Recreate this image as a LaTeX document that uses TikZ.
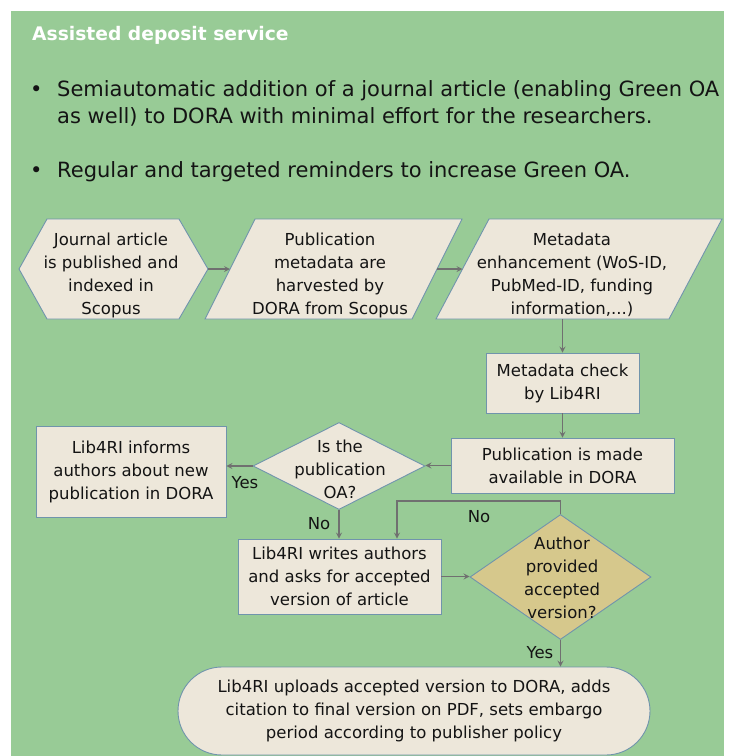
\documentclass[tikz,border=0pt]{standalone}
\usepackage{fontspec}
\setmainfont{DejaVu Sans}
\usetikzlibrary{shapes.geometric,calc}

\definecolor{panel}{RGB}{152,203,150}
\definecolor{paper}{RGB}{237,231,218}
\definecolor{edge}{RGB}{112,148,172}
\definecolor{tanc}{RGB}{214,200,140}
\definecolor{arrc}{RGB}{112,112,112}
\definecolor{ink}{RGB}{20,20,20}

\newcommand\flowfont{\fontsize{16.5}{23}\selectfont}
\newcommand\bulfont{\fontsize{21}{28}\selectfont}
\newcommand\headfont{\fontsize{18.7}{22}\selectfont\bfseries}

\begin{document}
\begin{tikzpicture}[x=1pt,y=-1pt,
   box/.style={draw=edge,fill=paper,line width=0.9pt,align=center,font=\flowfont,text=ink,inner sep=0pt},
   txt/.style={align=center,font=\flowfont,text=ink,inner sep=0pt},
   arr/.style={draw=arrc,line width=1.6pt,->,>=stealth},
   line/.style={anchor=base west,font=\bulfont,text=ink,inner sep=0pt}]
   \useasboundingbox(0,0)rectangle(729,756);%whole page
   \fill[white](0,0)rectangle(729,756);%white margin
   \fill[panel](11,11)rectangle(724,756);%green panel

   \node[anchor=base west,font=\headfont,text=white,inner sep=0pt](T)at(32,40){Assisted deposit service};%title
   \node[line](D1)at(30,96){•};%bullet 1
   \node[line](S1)at(57,96){Semiautomatic addition of a journal article (enabling Green OA};
   \node[line](S2)at(57,123.5){as well) to DORA with minimal effort for the researchers.};
   \node[line](D2)at(30,177){•};%bullet 2
   \node[line](S3)at(57,177){Regular and targeted reminders to increase Green OA.};

   %hexagon
   \draw[box](19,269)--(47,219)--(179,219)--(208,269)--(179,319)--(47,319)--cycle;
   \coordinate(JAr)at(208,269);%right tip
   \node[txt](JA)at(111,275){Journal article\\is published and\\indexed in\\Scopus};

   %parallelograms
   \draw[box](205,319)--(255,219)--(462,219)--(412,319)--cycle;
   \coordinate(PMl)at(230,269);\coordinate(PMr)at(437,269);
   \node[txt](PM)at(330,275){Publication\\metadata are\\harvested by\\DORA from Scopus};
   \draw[box](436,319)--(489,219)--(722,219)--(669,319)--cycle;
   \coordinate(MEl)at(462.5,269);\coordinate(MEb)at(562.5,319);
   \node[txt](ME)at(572,275){Metadata\\enhancement (WoS-ID,\\PubMed-ID, funding\\information,...)};

   \node[box,minimum width=153,minimum height=60](MC)at(562.5,383){Metadata check\\by Lib4RI};
   \node[box,minimum width=223,minimum height=55](PA)at(562.5,465.5){Publication is made\\available in DORA};
   \node[box,diamond,minimum width=172,minimum height=87](OA)at(339,466){};
   \node[txt](OAt)at(340,469){Is the\\publication\\OA?};
   \node[box,minimum width=190,minimum height=91](LI)at(131,471.5){Lib4RI informs\\authors about new\\publication in DORA};
   \node[box,minimum width=203,minimum height=75](LW)at(339.5,576.5){Lib4RI writes authors\\and asks for accepted\\version of article};
   \node[box,fill=tanc,diamond,minimum width=181,minimum height=125](AP)at(560.5,577){};
   \node[txt](APt)at(562,578){Author\\provided\\accepted\\version?};
   \node[box,rounded corners=44pt,minimum width=472,minimum height=88](UP)at(414,711)
      {Lib4RI uploads accepted version to DORA, adds\\citation to final version on PDF, sets embargo\\period according to publisher policy};

   %arrows
   \draw[arr](JAr)--(PMl);
   \draw[arr](PMr)--(MEl);
   \draw[arr](MEb)--(MC.north);
   \draw[arr](MC.south)--(PA.north);
   \draw[arr](PA.west)--(PA.west-|OA.east);
   \draw[arr](OA.west)--(OA.west-|LI.east);
   \draw[arr](OA.south)--(OA.south|-LW.north);
   \draw[arr](LW.east)--(LW.east-|AP.west);
   \coordinate(K)at(397,501);%corner of the loop
   \draw[arr](AP.north)|-(K)--(K|-LW.north);
   \draw[arr](AP.south)--(AP.south|-UP.north);

   %labels
   \node[txt](Y1)at(245,483){Yes};
   \node[txt](N1)at(319,524){No};
   \node[txt](N2)at(479,517){No};
   \node[txt](Y2)at(540,653){Yes};
\end{tikzpicture}
\end{document}
